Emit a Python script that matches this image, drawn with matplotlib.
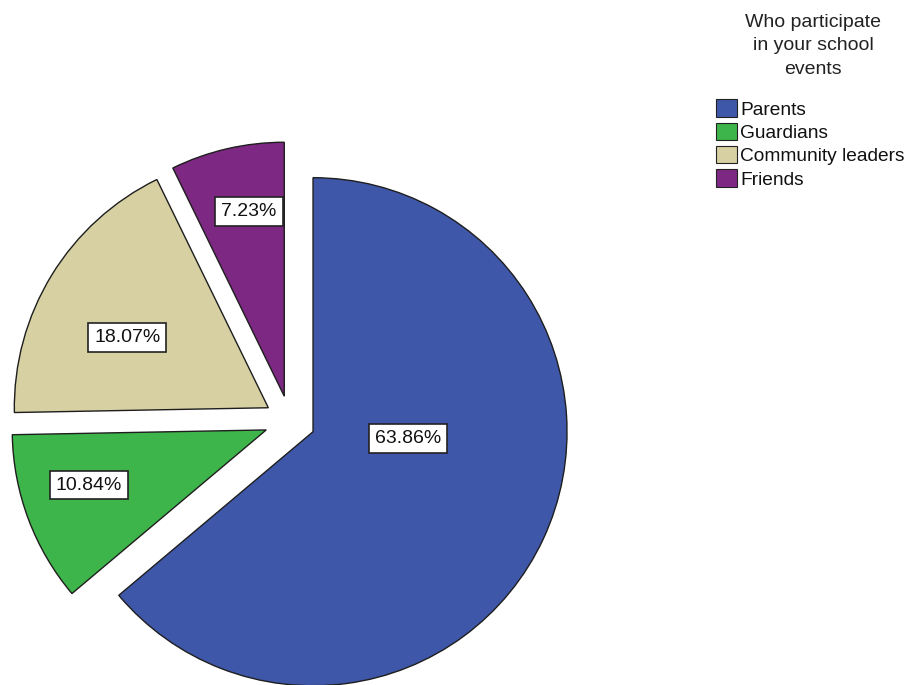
import numpy as np
import matplotlib
matplotlib.use('Agg')
from matplotlib import pyplot as plt
from matplotlib.patches import Patch

categories = ['Parents', 'Guardians', 'Community leaders', 'Friends']
percents = [63.86, 10.84, 18.07, 7.23]
colors = ['#3F57A9', '#3DB54A', '#D6D0A2', '#7D2882']
legend_title = 'Who participate\nin your school\nevents'

# label placement (radial fraction, angle shift in degrees) per slice
label_dist = [0.375, 0.73, 0.62, 0.74]
label_shift = [21, -3.3, 4.9, -2.2]

plt.rcParams['font.family'] = ['Liberation Sans', 'DejaVu Sans']

fig = plt.figure(figsize=(9.09, 6.85), dpi=100)
ax = fig.add_axes([0, 0, 1, 1])

wedges, _ = ax.pie(percents, colors=colors, startangle=90, counterclock=False,
                   explode=[0.1] * 4, radius=1,
                   wedgeprops=dict(edgecolor='#1e1e1e', linewidth=1.0))

for w, p, d, s in zip(wedges, percents, label_dist, label_shift):
    ang = np.deg2rad((w.theta1 + w.theta2) / 2 + s)
    cx, cy = w.center
    ax.text(cx + d * np.cos(ang), cy + d * np.sin(ang), '%.2f%%' % p,
            ha='center', va='center', fontsize=14, color='#111111',
            bbox=dict(boxstyle='square,pad=0.3', fc='white', ec='#222222', lw=1.2))

# map data units onto pixels: centre at (290, 421) px, radius 254 px
W, H, cxp, cyp, r = 909, 685, 290, 421, 254
ax.set_aspect('auto')
ax.set_xlim(-cxp / r, (W - cxp) / r)
ax.set_ylim(-(H - cyp) / r, cyp / r)
ax.axis('off')

# legend title drawn separately so its spacing can match
fig.text(813 / W, 1 - 14 / H, legend_title, ha='center', va='top', fontsize=14,
         linespacing=1.5, color='#222222')

handles = [Patch(facecolor=c, edgecolor='#222222', lw=0.8) for c in colors]
leg = fig.legend(handles, categories, loc='upper left',
                 bbox_to_anchor=(703 / W, 1 - 86 / H), frameon=False,
                 fontsize=13.8, handlelength=1.05, handleheight=1.0,
                 handletextpad=0.2, labelspacing=0.22, borderpad=0.2)
for t in leg.get_texts():
    t.set_color('#111111')

fig.savefig('out.png', dpi=100, facecolor='white')
